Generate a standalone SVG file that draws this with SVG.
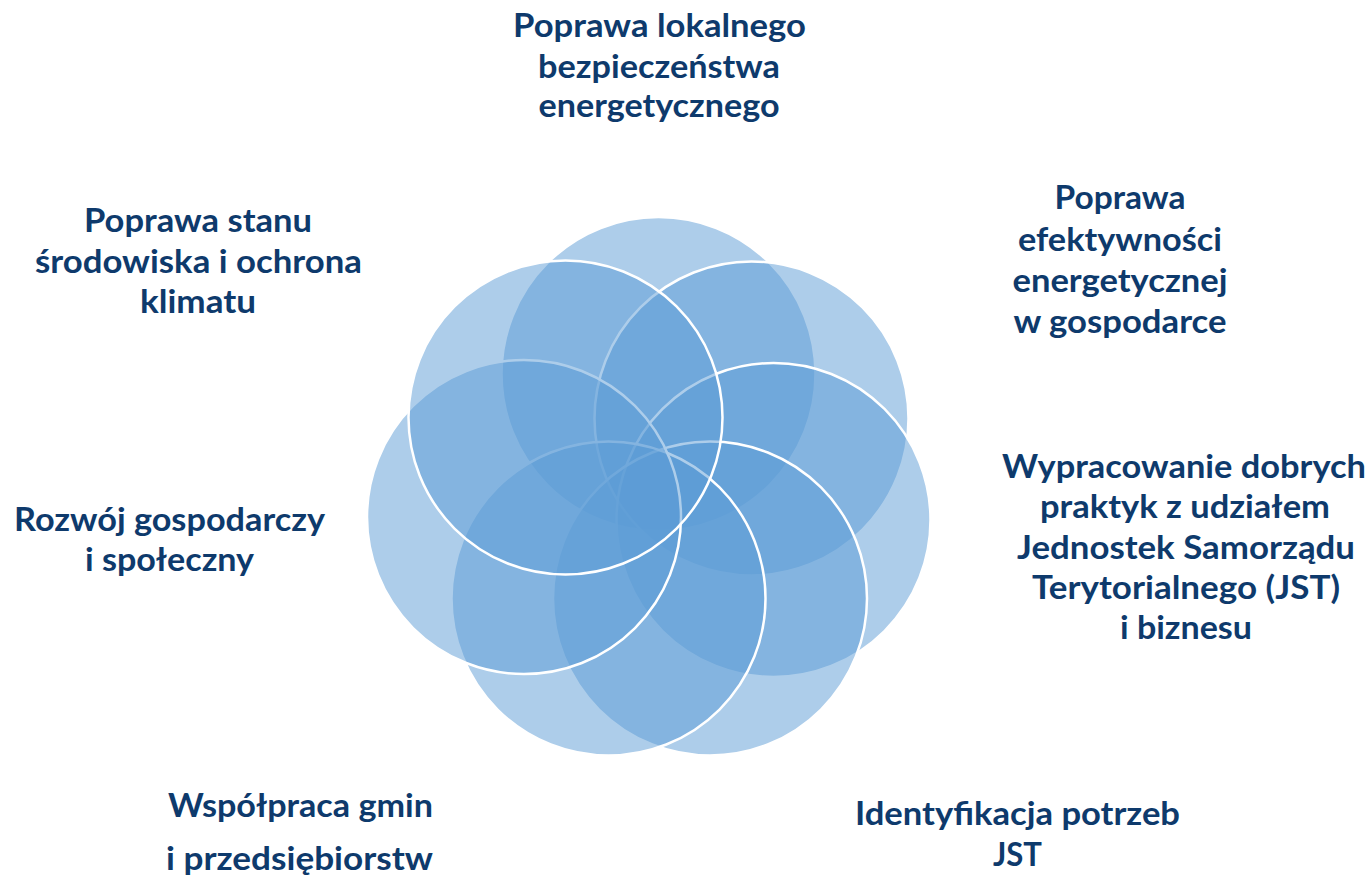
<svg xmlns="http://www.w3.org/2000/svg" width="1372" height="880" viewBox="0 0 1372 880">
  <style>
    .c { fill: #5B9BD5; fill-opacity: 0.5; stroke: #FFFFFF; stroke-width: 2.5; }
    .t { font-family: Lato, "Open Sans", "Liberation Sans", sans-serif; font-weight: 700; font-size: 32px; fill: #0E3A6C; text-anchor: middle; }
  </style>
  <rect width="1372" height="880" fill="#FFFFFF"/>
  <g id="connectors"/>
  <g id="node-top">
    <circle class="c" cx="658.5" cy="374" r="157"/>
    <text class="t" x="659.5" y="37" textLength="293" lengthAdjust="spacingAndGlyphs">Poprawa lokalnego</text>
    <text class="t" x="659" y="78" textLength="242" lengthAdjust="spacingAndGlyphs">bezpieczeństwa</text>
    <text class="t" x="659" y="117" textLength="241" lengthAdjust="spacingAndGlyphs">energetycznego</text>
  </g>
  <g id="node-upper-right">
    <circle class="c" cx="751.5" cy="418.5" r="157"/>
    <text class="t" x="1120" y="209" textLength="131" lengthAdjust="spacingAndGlyphs">Poprawa</text>
    <text class="t" x="1120" y="251" textLength="204" lengthAdjust="spacingAndGlyphs">efektywności</text>
    <text class="t" x="1120" y="292" textLength="215" lengthAdjust="spacingAndGlyphs">energetycznej</text>
    <text class="t" x="1120" y="333" textLength="213" lengthAdjust="spacingAndGlyphs">w gospodarce</text>
  </g>
  <g id="node-right">
    <circle class="c" cx="773.5" cy="520" r="157"/>
    <text class="t" x="1184" y="478" textLength="364" lengthAdjust="spacingAndGlyphs">Wypracowanie dobrych</text>
    <text class="t" x="1185" y="518" textLength="290" lengthAdjust="spacingAndGlyphs">praktyk z udziałem</text>
    <text class="t" x="1186" y="559" textLength="338" lengthAdjust="spacingAndGlyphs">Jednostek Samorządu</text>
    <text class="t" x="1186" y="599" textLength="308" lengthAdjust="spacingAndGlyphs">Terytorialnego (JST)</text>
    <text class="t" x="1186" y="639" textLength="132" lengthAdjust="spacingAndGlyphs">i biznesu</text>
  </g>
  <g id="node-lower-right">
    <circle class="c" cx="710" cy="598.5" r="157"/>
    <text class="t" x="1017.5" y="825" textLength="325" lengthAdjust="spacingAndGlyphs">Identyfikacja potrzeb</text>
    <text class="t" x="1017.5" y="866" textLength="49" lengthAdjust="spacingAndGlyphs">JST</text>
  </g>
  <g id="node-lower-left">
    <circle class="c" cx="608.5" cy="598.5" r="157"/>
    <text class="t" x="300.5" y="817" textLength="265" lengthAdjust="spacingAndGlyphs">Współpraca gmin</text>
    <text class="t" x="299.5" y="870" textLength="267" lengthAdjust="spacingAndGlyphs">i przedsiębiorstw</text>
  </g>
  <g id="node-left">
    <circle class="c" cx="524" cy="517" r="157"/>
    <text class="t" x="169.5" y="531" textLength="311" lengthAdjust="spacingAndGlyphs">Rozwój gospodarczy</text>
    <text class="t" x="169.5" y="571" textLength="169" lengthAdjust="spacingAndGlyphs">i społeczny</text>
  </g>
  <g id="node-upper-left">
    <circle class="c" cx="565.5" cy="417.5" r="157"/>
    <text class="t" x="198" y="232" textLength="228" lengthAdjust="spacingAndGlyphs">Poprawa stanu</text>
    <text class="t" x="198.5" y="273" textLength="327" lengthAdjust="spacingAndGlyphs">środowiska i ochrona</text>
    <text class="t" x="198" y="313" textLength="116" lengthAdjust="spacingAndGlyphs">klimatu</text>
  </g>
</svg>
